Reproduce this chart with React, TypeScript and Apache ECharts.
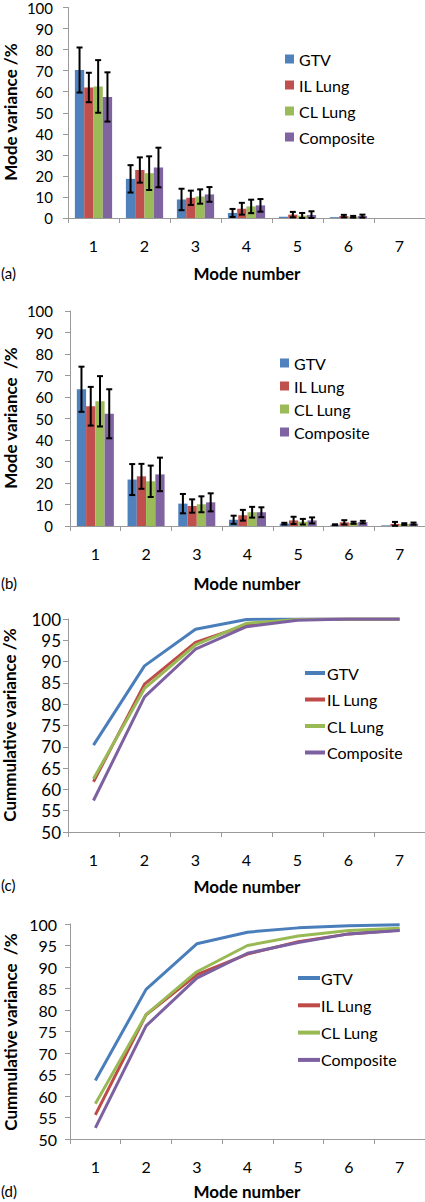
import React, { useEffect, useRef } from "react";
import * as echarts from "echarts";

const modes = ["1", "2", "3", "4", "5", "6", "7"];
const names = ["GTV", "IL Lung", "CL Lung", "Composite"];
const barColors = ["#4F81BD", "#C0504D", "#9BBB59", "#8064A2"];
const lineColors = ["#4A7EBB", "#BE4B48", "#98B954", "#7D60A0"];

// Panel (a): mode variance (%) and error (+/-)
const aGTV = [70.3, 18.6, 8.8, 2.4, 0.6, 0.4, 0];
const aIL = [62.0, 22.8, 9.6, 4.4, 1.6, 0.9, 0];
const aCL = [62.5, 21.3, 10.2, 5.5, 1.1, 0.6, 0];
const aComp = [57.5, 24.0, 11.2, 6.0, 1.4, 0.9, 0];
const aGTVErr = [10.7, 6.5, 5.1, 1.9, 0, 0, 0];
const aILErr = [7.0, 6.0, 3.4, 2.8, 1.3, 0.6, 0];
const aCLErr = [12.5, 8.0, 3.4, 3.2, 1.3, 0.4, 0];
const aCompErr = [11.7, 9.4, 3.5, 3.0, 1.8, 0.7, 0];

// Panel (b)
const bGTV = [63.6, 21.6, 10.4, 2.9, 1.1, 0.6, 0.3];
const bIL = [55.7, 23.1, 9.3, 5.0, 2.6, 1.7, 1.0];
const bCL = [58.0, 20.8, 10.1, 6.4, 2.0, 1.5, 0.9];
const bComp = [52.2, 24.0, 11.0, 6.4, 2.6, 1.8, 1.1];
const bGTVErr = [10.5, 7.2, 4.5, 1.9, 0.4, 0.2, 0];
const bILErr = [9.0, 5.8, 3.1, 2.5, 1.7, 1.0, 0.9];
const bCLErr = [11.7, 7.3, 3.7, 2.5, 1.3, 0.5, 0.4];
const bCompErr = [11.4, 7.8, 4.2, 2.3, 1.4, 0.6, 0.5];

// Panel (c): cumulative variance (%)
const cGTV = [70.4, 89.0, 97.6, 99.9, 100, 100, 100];
const cIL = [61.8, 84.7, 94.5, 98.6, 99.9, 100, 100];
const cCL = [62.5, 83.7, 93.9, 99.0, 99.9, 100, 100];
const cComp = [57.4, 81.7, 92.9, 98.2, 99.7, 100, 100];

// Panel (d)
const dGTV = [63.6, 84.8, 95.4, 98.1, 99.1, 99.6, 99.8];
const dIL = [55.6, 78.9, 88.2, 93.0, 95.9, 97.7, 98.6];
const dCL = [58.2, 78.9, 88.9, 95.0, 97.2, 98.5, 99.0];
const dComp = [52.6, 76.3, 87.4, 93.2, 95.7, 97.7, 98.5];

const FONT = "Lato, 'Open Sans', sans-serif";
const AXIS_COLOR = "#9A9A9A";
const GAP = 0.27;

const grids = [
  { left: 68, top: 6, width: 357, height: 212 },
  { left: 70, top: 311, width: 355, height: 215 },
  { left: 68, top: 619, width: 357, height: 213 },
  { left: 70, top: 924, width: 355, height: 215 },
];
const yFont = [15, 15, 17, 16];
const yMargin = [15, 17, 7, 13];

function errorSeries(g: number, vals: number[][], errs: number[][]) {
  const data: number[][] = [];
  for (let s = 0; s < vals.length; s++) {
    for (let i = 0; i < modes.length; i++) {
      if (errs[s][i] > 0) data.push([i, vals[s][i], errs[s][i], s]);
    }
  }
  return {
    type: "custom",
    xAxisIndex: g,
    yAxisIndex: g,
    z: 10,
    silent: true,
    encode: { x: 0, y: 1 },
    data,
    renderItem: (params: any, api: any) => {
      const cat = api.value(0);
      const v = api.value(1);
      const e = api.value(2);
      const s = api.value(3);
      const c = api.coord([cat, v]);
      const band = api.size([1, 0])[0];
      const total = band * (1 - GAP);
      const bw = total / 4;
      const x = c[0] - total / 2 + bw * (s + 0.5);
      const top = api.coord([cat, v + e])[1];
      const bot = api.coord([cat, Math.max(0, v - e)])[1];
      const cap = 3;
      const st = { stroke: "#000", lineWidth: 2 };
      return {
        type: "group",
        children: [
          { type: "line", shape: { x1: x, y1: top, x2: x, y2: bot }, style: st },
          { type: "line", shape: { x1: x - cap, y1: top, x2: x + cap, y2: top }, style: st },
          { type: "line", shape: { x1: x - cap, y1: bot, x2: x + cap, y2: bot }, style: st },
        ],
      };
    },
  };
}

function barSeries(g: number, prefix: string, vals: number[][]) {
  return vals.map((v, s) => ({
    type: "bar",
    name: prefix + names[s],
    xAxisIndex: g,
    yAxisIndex: g,
    data: v,
    barGap: "0%",
    barCategoryGap: GAP * 100 + "%",
    itemStyle: { color: barColors[s] },
  }));
}

function lineSeries(g: number, prefix: string, vals: number[][]) {
  return vals.map((v, s) => ({
    type: "line",
    name: prefix + names[s],
    xAxisIndex: g,
    yAxisIndex: g,
    data: v,
    symbol: "none",
    lineStyle: { color: lineColors[s], width: 3 },
    itemStyle: { color: lineColors[s] },
  }));
}

function text(x: number, y: number, t: string, size: number, bold: boolean, rot = 0, align = "center") {
  return {
    type: "text",
    x,
    y,
    rotation: rot,
    silent: true,
    style: {
      text: t,
      font: `${bold ? "bold " : ""}${size}px ${FONT}`,
      fill: "#000",
      textAlign: align,
      textVerticalAlign: "middle",
      align,
      verticalAlign: "middle",
    },
  };
}

export default function App() {
  const ref = useRef<HTMLDivElement>(null);
  useEffect(() => {
    if (!ref.current) return;
    const chart = echarts.init(ref.current, undefined, { renderer: "svg" });

    const xAxes = grids.map((_, g) => ({
      type: "category",
      gridIndex: g,
      data: modes,
      axisLine: { lineStyle: { color: AXIS_COLOR, width: 1 } },
      axisTick: { show: true, length: 5, interval: 0, lineStyle: { color: AXIS_COLOR } },
      axisLabel: { color: "#000", fontSize: 16, fontFamily: FONT, margin: 19 },
    }));
    const yAxes = grids.map((_, g) => ({
      type: "value",
      gridIndex: g,
      min: g < 2 ? 0 : 50,
      max: 100,
      interval: g < 2 ? 10 : 5,
      axisLine: { show: true, lineStyle: { color: AXIS_COLOR, width: 1 } },
      axisTick: { show: true, length: 5, lineStyle: { color: AXIS_COLOR } },
      splitLine: { show: false },
      axisLabel: { color: "#000", fontSize: yFont[g], fontFamily: FONT, margin: yMargin[g] },
    }));

    const legendBase = {
      orient: "vertical",
      selectedMode: false,
      padding: 0,
      textStyle: { color: "#000", fontSize: 16, fontFamily: FONT, lineHeight: 16 },
      formatter: (n: string) => n.slice(2),
    };

    const option: any = {
      animation: false,
      grid: grids.map((g) => ({ ...g, containLabel: false })),
      xAxis: xAxes,
      yAxis: yAxes,
      legend: [
        { ...legendBase, left: 285, top: 51, itemGap: 10, icon: "rect", itemWidth: 9, itemHeight: 9, data: names.map((n) => "a:" + n) },
        { ...legendBase, left: 280, top: 355, itemGap: 7, icon: "rect", itemWidth: 9, itemHeight: 9, data: names.map((n) => "b:" + n) },
        { ...legendBase, left: 305, top: 665, itemGap: 10.5, icon: "rect", itemWidth: 20, itemHeight: 4, textStyle: { ...legendBase.textStyle, padding: [0, 0, 0, -3] }, data: names.map((n) => "c:" + n) },
        { ...legendBase, left: 298, top: 970, itemGap: 11.3, icon: "rect", itemWidth: 22, itemHeight: 4, textStyle: { ...legendBase.textStyle, padding: [0, 0, 0, -4] }, data: names.map((n) => "d:" + n) },
      ],
      series: [
        ...barSeries(0, "a:", [aGTV, aIL, aCL, aComp]),
        errorSeries(0, [aGTV, aIL, aCL, aComp], [aGTVErr, aILErr, aCLErr, aCompErr]),
        ...barSeries(1, "b:", [bGTV, bIL, bCL, bComp]),
        errorSeries(1, [bGTV, bIL, bCL, bComp], [bGTVErr, bILErr, bCLErr, bCompErr]),
        ...lineSeries(2, "c:", [cGTV, cIL, cCL, cComp]),
        ...lineSeries(3, "d:", [dGTV, dIL, dCL, dComp]),
      ],
      graphic: [
        text(10, 112, "Mode variance /%", 17, true, Math.PI / 2),
        text(247, 273, "Mode number", 17, true),
        text(1, 273, "(a)", 15, false, 0, "left"),
        text(10, 418, "Mode variance  /%", 17, true, Math.PI / 2),
        text(247, 583, "Mode number", 17, true),
        text(1, 583, "(b)", 15, false, 0, "left"),
        text(9, 725, "Cummulative variance /%", 17, true, Math.PI / 2),
        text(247, 886, "Mode number", 17, true),
        text(1, 885, "(c)", 15, false, 0, "left"),
        text(10, 1032, "Cummulative variance  /%", 17, true, Math.PI / 2),
        text(247, 1191, "Mode number", 17, true),
        text(1, 1191, "(d)", 15, false, 0, "left"),
      ],
    };
    chart.setOption(option);
    return () => chart.dispose();
  }, []);
  return (
    <div
      ref={ref}
      style={{ position: "absolute", left: 0, top: 0, width: 425, height: 1202, background: "#fff" }}
    />
  );
}
